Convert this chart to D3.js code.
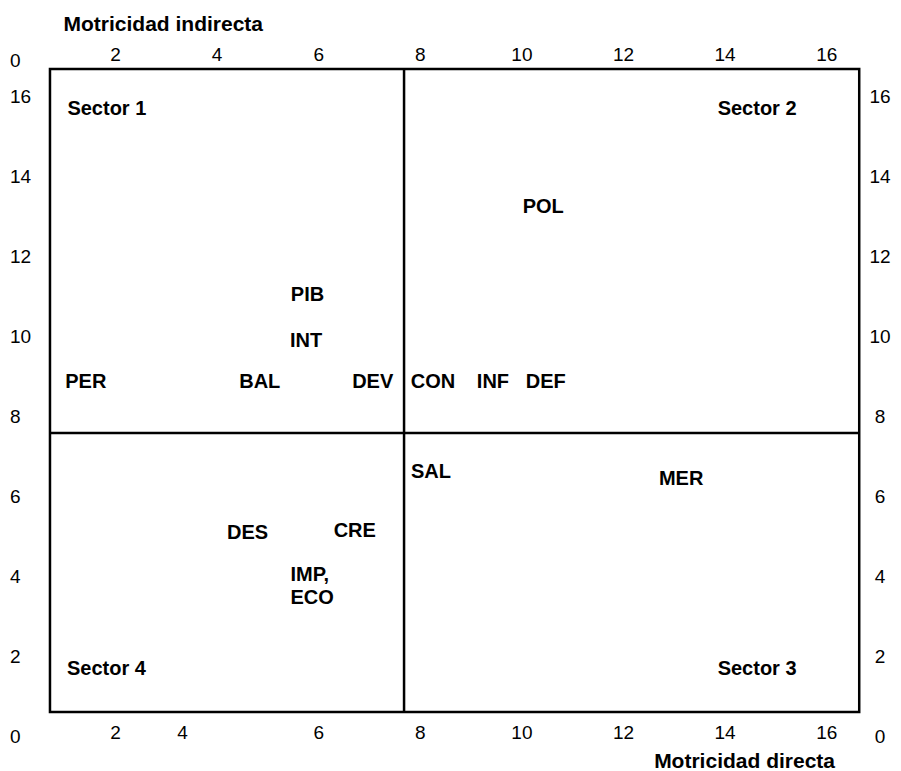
<!DOCTYPE html>
<html>
  <head>
    <meta charset="UTF-8" />
    <script src="https://cdnjs.cloudflare.com/ajax/libs/d3/7.8.5/d3.min.js"></script>
    <style>
      body {
        margin: 0;
        background: #fff;
      }
      text {
        fill: #000;
      }
    </style>
  </head>
  <body>
    <div id="viz"></div>
    <script>
      // values
      const variables = ["POL", "PIB", "INT", "PER", "BAL", "DEV", "CON", "INF", "DEF", "SAL", "MER", "DES", "CRE", "IMP,\nECO"];
      const motX = [10.43, 5.79, 5.76, 1.43, 4.85, 7.08, 8.26, 9.44, 10.48, 8.22, 13.15, 4.61, 6.72, 5.88];
      const motY = [13.26, 11.04, 9.89, 8.875, 8.875, 8.875, 8.875, 8.875, 8.875, 6.625, 6.46, 5.09, 5.14, 3.76];

      const sectors = ["Sector 1", "Sector 2", "Sector 3", "Sector 4"];
      const sectorX = [1.84, 14.64, 14.64, 1.84];
      const sectorY = [15.71, 15.71, 1.7, 1.7];

      // frame edges and the split between sectors
      const frameX = [0.72, 7.69, 16.65];
      const frameY = [0.6, 7.575, 16.675];

      const topTickValues = [2, 4, 6, 8, 10, 12, 14, 16];
      const bottomTickValues = [2, 3.32, 6, 8, 10, 12, 14, 16];
      const bottomTickLabels = ["2", "4", "6", "8", "10", "12", "14", "16"];
      const leftTickValues = [16.9, 16, 14, 12, 10, 8, 6, 4, 2, 0];
      const leftTickLabels = ["0", "16", "14", "12", "10", "8", "6", "4", "2", "0"];
      const rightTickValues = [16, 14, 12, 10, 8, 6, 4, 2, 0];

      const font = "'Liberation Sans', Arial, Helvetica, sans-serif";

      const svg = d3
        .select("#viz")
        .append("svg")
        .attr("width", 901)
        .attr("height", 771);

      const x = d3.scaleLinear().domain([0, 16]).range([13.4, 826.2]),
        y = d3.scaleLinear().domain([0, 16]).range([736, 96]);

      // frame
      svg
        .append("rect")
        .attr("x", x(frameX[0]))
        .attr("y", y(frameY[2]))
        .attr("width", x(frameX[2]) - x(frameX[0]))
        .attr("height", y(frameY[0]) - y(frameY[2]))
        .attr("fill", "none")
        .attr("stroke", "#000")
        .attr("stroke-width", 2.5);

      svg
        .append("line")
        .attr("x1", x(frameX[1]))
        .attr("x2", x(frameX[1]))
        .attr("y1", y(frameY[2]))
        .attr("y2", y(frameY[0]))
        .attr("stroke", "#000")
        .attr("stroke-width", 2.5);

      svg
        .append("line")
        .attr("x1", x(frameX[0]))
        .attr("x2", x(frameX[2]))
        .attr("y1", y(frameY[1]))
        .attr("y2", y(frameY[1]))
        .attr("stroke", "#000")
        .attr("stroke-width", 2.5);

      function plain(g) {
        g.attr("font-family", font).attr("font-size", 19);
        g.select(".domain").remove();
        g.selectAll(".tick line").remove();
        g.selectAll("text").attr("fill", "#000").attr("dy", "0.35em");
      }

      svg
        .append("g")
        .attr("transform", "translate(0,54)")
        .call(d3.axisTop(x).tickValues(topTickValues).tickFormat(d3.format("d")).tickSize(0).tickPadding(0))
        .call(plain)
        .call(g => g.selectAll("text").attr("y", 0));

      svg
        .append("g")
        .attr("transform", "translate(0,732)")
        .call(d3.axisBottom(x).tickValues(bottomTickValues).tickFormat((d, i) => bottomTickLabels[i]).tickSize(0).tickPadding(0))
        .call(plain)
        .call(g => g.selectAll("text").attr("y", 0));

      svg
        .append("g")
        .attr("transform", "translate(10,0)")
        .call(d3.axisLeft(y).tickValues(leftTickValues).tickFormat((d, i) => leftTickLabels[i]).tickSize(0).tickPadding(0))
        .call(plain)
        .call(g => g.selectAll("text").attr("x", 0).attr("text-anchor", "start"));

      svg
        .append("g")
        .attr("transform", "translate(880,0)")
        .call(d3.axisRight(y).tickValues(rightTickValues).tickFormat(d3.format("d")).tickSize(0).tickPadding(0))
        .call(plain)
        .call(g => g.selectAll("text").attr("x", 0).attr("text-anchor", "middle"));

      // axis titles
      svg
        .append("text")
        .attr("x", 63.5)
        .attr("y", 31)
        .attr("font-family", font)
        .attr("font-size", 21)
        .attr("font-weight", "bold")
        .text("Motricidad indirecta");

      svg
        .append("text")
        .attr("x", 835)
        .attr("y", 768)
        .attr("text-anchor", "end")
        .attr("font-family", font)
        .attr("font-size", 21)
        .attr("font-weight", "bold")
        .text("Motricidad directa");

      // labels: block centred on the point, lines left aligned
      function place(sel) {
        sel.each(function () {
          const t = d3.select(this),
            lines = t.datum().name.split("\n"),
            n = lines.length;
          t.selectAll("tspan")
            .data(lines)
            .enter()
            .append("tspan")
            .attr("x", 0)
            .attr("dy", (l, i) => (i === 0 ? 0.35 - (n - 1) * 0.56 + "em" : "1.12em"))
            .text(l => l);
          const w = this.getBBox().width;
          t.attr("transform", d => `translate(${x(d.x) - w / 2},${y(d.y)})`);
        });
      }

      const points = variables.map((name, i) => ({ name, x: motX[i], y: motY[i] }));
      const sectorLabels = sectors.map((name, i) => ({ name, x: sectorX[i], y: sectorY[i] }));

      svg
        .append("g")
        .selectAll("text")
        .data(points.concat(sectorLabels))
        .enter()
        .append("text")
        .attr("font-family", font)
        .attr("font-size", 20)
        .attr("font-weight", "bold")
        .call(place);
    </script>
  </body>
</html>
